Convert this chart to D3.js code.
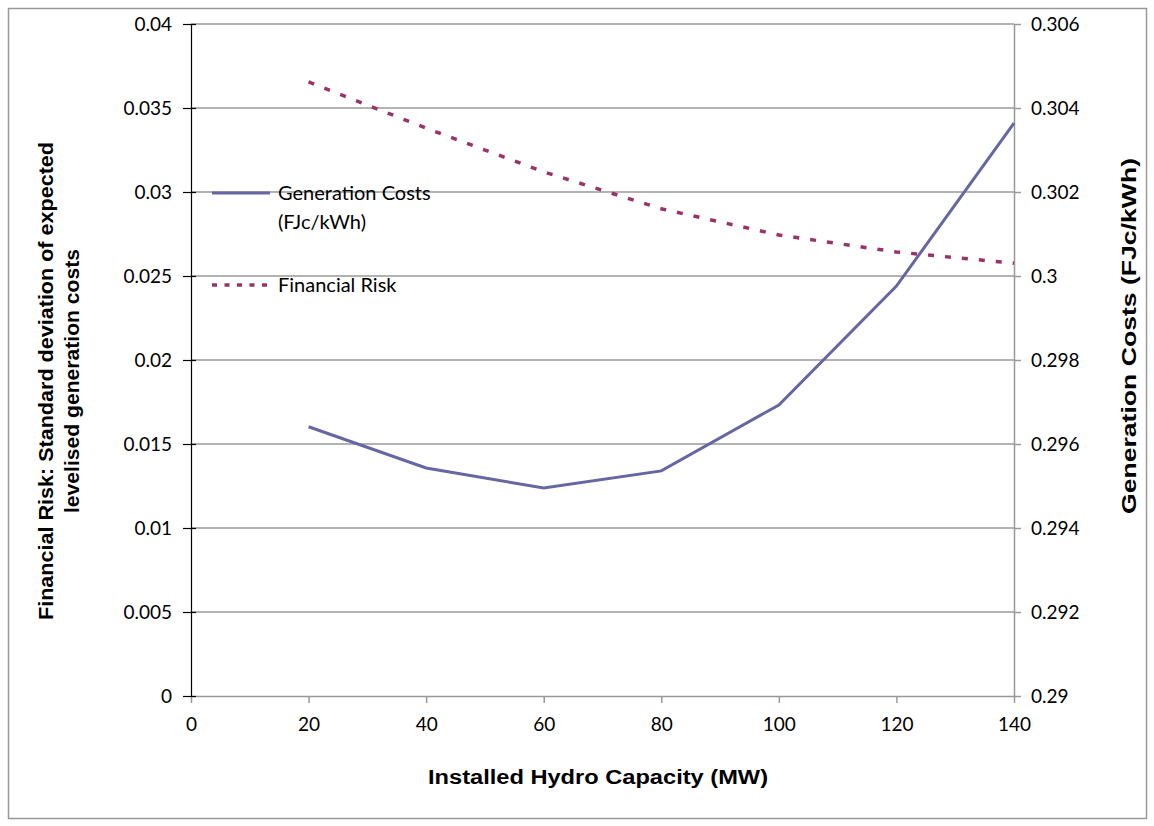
<!DOCTYPE html>
<html>
<head>
<meta charset="utf-8">
<script src="https://cdn.jsdelivr.net/npm/d3@7"></script>
<style>
  body { margin: 0; background: #fff; }
  text { font-family: Lato, "Open Sans", sans-serif; fill: #000; }
  .title { font-family: "Liberation Sans", Arial, sans-serif; font-weight: bold; }
</style>
</head>
<body>
<svg id="chart" width="1154" height="826"></svg>
<script>
// capacity steps (MW)
var capacity = [20, 40, 60, 80, 100, 120, 140];
// std dev of expected levelised generation costs (left axis)
var financialRisk = [0.03655, 0.0338, 0.0312, 0.0290, 0.02744, 0.02643, 0.02576];
// generation costs FJc/kWh (right axis)
var genCosts = [0.29641, 0.29543, 0.29495, 0.29536, 0.29693, 0.29976, 0.30364];

var xTicks = [0, 20, 40, 60, 80, 100, 120, 140];
var leftTicks = [0, 0.005, 0.01, 0.015, 0.02, 0.025, 0.03, 0.035, 0.04];
var rightTicks = [0.29, 0.292, 0.294, 0.296, 0.298, 0.3, 0.302, 0.304, 0.306];

var svg = d3.select("#chart");
var plotLeft = 191, plotRight = 1014, plotTop = 24, plotBottom = 696;

// outer frame
svg.append("rect")
    .attr("x", 8.5).attr("y", 8.5)
    .attr("width", 1138).attr("height", 810)
    .attr("fill", "none").attr("stroke", "#999").attr("stroke-width", 1.5);

var x = d3.scaleLinear().domain([0, 140]).range([plotLeft, plotRight]);
var yL = d3.scaleLinear().domain([0, 0.04]).range([plotBottom, plotTop]);
var yR = d3.scaleLinear().domain([0.29, 0.306]).range([plotBottom, plotTop]);

// gridlines
svg.append("g").selectAll("line")
    .data(leftTicks.filter(function (d) { return d > 0; }))
    .enter().append("line")
    .attr("x1", plotLeft).attr("x2", plotRight)
    .attr("y1", function (d) { return yL(d); })
    .attr("y2", function (d) { return yL(d); })
    .attr("stroke", "#999").attr("stroke-width", 1.5);

// x axis
var xAxis = svg.append("g")
    .attr("transform", "translate(0," + plotBottom + ")")
    .call(d3.axisBottom(x).tickValues(xTicks).tickSize(7).tickSizeOuter(0).tickPadding(15).tickFormat(d3.format("d")));
xAxis.selectAll("line, path").attr("stroke", "#999").attr("stroke-width", 1.5);
xAxis.selectAll("text").style("font-size", "19px").attr("fill", "#000");

// right axis
var rAxis = svg.append("g")
    .attr("transform", "translate(" + plotRight + ",0)")
    .call(d3.axisRight(yR).tickValues(rightTicks).tickSize(7).tickSizeOuter(0).tickPadding(10)
        .tickFormat(function (d) { return +d.toFixed(3) + ""; }));
rAxis.selectAll("line, path").attr("stroke", "#999").attr("stroke-width", 1.5);
rAxis.selectAll("text").style("font-size", "19px").attr("fill", "#000");

// left axis, ticks crossing the line
var lAxis = svg.append("g")
    .attr("transform", "translate(" + plotLeft + ",0)")
    .call(d3.axisLeft(yL).tickValues(leftTicks).tickSizeInner(8).tickSizeOuter(0).tickPadding(11)
        .tickFormat(function (d) { return +d.toFixed(3) + ""; }));
lAxis.selectAll("path").attr("stroke", "#000").attr("stroke-width", 1.2);
lAxis.selectAll(".tick line").attr("x2", 5).attr("x1", -8).attr("stroke", "#000").attr("stroke-width", 1.2);
lAxis.selectAll("text").style("font-size", "19px").attr("fill", "#000");

// series
var costLine = d3.line()
    .x(function (d, i) { return x(capacity[i]); })
    .y(function (d) { return yR(d); });
var riskLine = d3.line()
    .x(function (d, i) { return x(capacity[i]); })
    .y(function (d) { return yL(d); });

svg.append("path").datum(genCosts)
    .attr("d", costLine)
    .attr("fill", "none").attr("stroke", "#6666a3").attr("stroke-width", 3);

svg.append("path").datum(financialRisk)
    .attr("d", riskLine)
    .attr("fill", "none").attr("stroke", "#993366").attr("stroke-width", 3.5)
    .attr("stroke-dasharray", "6,11");

// legend
var legend = svg.append("g");
legend.append("line")
    .attr("x1", 212).attr("x2", 270).attr("y1", 193).attr("y2", 193)
    .attr("stroke", "#6666a3").attr("stroke-width", 3);
legend.append("text").attr("x", 278).attr("y", 200).style("font-size", "20px").text("Generation Costs");
legend.append("text").attr("x", 278).attr("y", 229).style("font-size", "20px").text("(FJc/kWh)");
legend.append("line")
    .attr("x1", 212).attr("x2", 270).attr("y1", 285).attr("y2", 285)
    .attr("stroke", "#993366").attr("stroke-width", 3.5)
    .attr("stroke-dasharray", "5,7.5");
legend.append("text").attr("x", 278).attr("y", 292).style("font-size", "20px").text("Financial Risk");

// axis titles
svg.append("text").attr("class", "title")
    .attr("x", 598).attr("y", 784)
    .attr("text-anchor", "middle").style("font-size", "20px")
    .attr("textLength", 340).attr("lengthAdjust", "spacingAndGlyphs")
    .text("Installed Hydro Capacity (MW)");

var lt = svg.append("text").attr("class", "title")
    .attr("transform", "translate(53,381) rotate(-90)")
    .attr("text-anchor", "middle").style("font-size", "20px");
lt.append("tspan").attr("x", 0).attr("dy", 0)
    .attr("textLength", 478).attr("lengthAdjust", "spacingAndGlyphs")
    .text("Financial Risk: Standard deviation of expected");
lt.append("tspan").attr("x", 0).attr("dy", 26)
    .attr("textLength", 264).attr("lengthAdjust", "spacingAndGlyphs")
    .text("levelised generation costs");

svg.append("text").attr("class", "title")
    .attr("transform", "translate(1136,336) rotate(-90)")
    .attr("text-anchor", "middle").style("font-size", "20px")
    .attr("textLength", 356).attr("lengthAdjust", "spacingAndGlyphs")
    .text("Generation Costs (FJc/kWh)");
</script>
</body>
</html>
